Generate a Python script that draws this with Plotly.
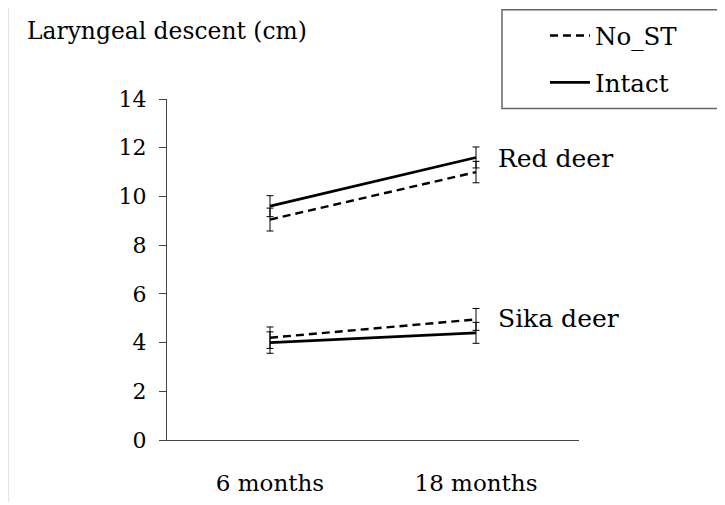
import plotly.graph_objects as go

ages = ["6 months", "18 months"]

red_intact = [9.6, 11.6]
red_intact_err = [0.43, 0.43]
red_nost = [9.05, 11.0]
red_nost_err = [0.47, 0.44]

sika_intact = [4.0, 4.4]
sika_intact_err = [0.44, 0.43]
sika_nost = [4.2, 4.95]
sika_nost_err = [0.44, 0.45]

y_ticks = [0, 2, 4, 6, 8, 10, 12, 14]

FONT = "DejaVu Serif"
DASH = "8px,5px"

OFF = 8  # page body margin (figure starts 8px into the page)
W, H = 725 - OFF, 505 - OFF
L, T = 167 - OFF, 98.5 - OFF
R, B = 146, 65
PW, PH = W - L - R, H - T - B


def px(xp):
    return (xp - OFF - L) / PW


def py(yp):
    return (H - B - (yp - OFF)) / PH


fig = go.Figure()


def add(vals, errs, name, dash, show, group):
    fig.add_trace(go.Scatter(
        x=ages, y=vals, name=name, mode="lines",
        line=dict(color="black", width=2.7 if dash == "solid" else 2.4, dash=dash),
        error_y=dict(type="data", array=errs, visible=True, color="black",
                     thickness=1, width=3.5),
        showlegend=show, legendgroup=group, legendrank=1 if group == "nost" else 2,
        hoverinfo="x+y+name",
    ))


add(red_nost, red_nost_err, "No_ST", DASH, True, "nost")
add(sika_nost, sika_nost_err, "No_ST", DASH, False, "nost")
add(red_intact, red_intact_err, "Intact", "solid", True, "intact")
add(sika_intact, sika_intact_err, "Intact", "solid", False, "intact")

fig.add_annotation(x=1, y=11.55, text="Red deer", showarrow=False, xanchor="left",
                   yanchor="middle", xshift=20, font=dict(family=FONT, size=25, color="black"))
fig.add_annotation(x=1, y=5.0, text="Sika deer", showarrow=False, xanchor="left",
                   yanchor="middle", xshift=20, font=dict(family=FONT, size=25, color="black"))

# legend frame
fig.add_shape(type="rect", xref="paper", yref="paper",
              x0=px(502), x1=px(740), y0=py(108), y1=py(9),
              line=dict(color="#666666", width=1.5), fillcolor="rgba(0,0,0,0)")
# faint left page edge
fig.add_shape(type="line", xref="paper", yref="paper",
              x0=px(8.5), x1=px(8.5), y0=py(502), y1=py(-20),
              line=dict(color="#e4e4e4", width=1.2))

fig.update_layout(
    width=W, height=H,
    margin=dict(l=L, r=R, t=T, b=B, pad=0, autoexpand=False),
    paper_bgcolor="white", plot_bgcolor="white",
    font=dict(family=FONT, size=22, color="black"),
    title=dict(text="Laryngeal descent (cm)", x=(27 - OFF) / W, xanchor="left",
               xref="container", yref="container", y=1 - (31 - OFF) / H, yanchor="middle",
               font=dict(family=FONT, size=23.4, color="black")),
    legend=dict(xref="container", yref="container", x=(545 - OFF) / W, y=1 - (13 - OFF) / H,
                xanchor="left", yanchor="top", bgcolor="rgba(0,0,0,0)",
                borderwidth=0, font=dict(family=FONT, size=24.5, color="black"),
                tracegroupgap=12, itemwidth=40),
    xaxis=dict(type="category", range=[-0.5, 1.5], showgrid=False, zeroline=False,
               showline=True, linecolor="#444444", linewidth=1.2, ticks="",
               tickfont=dict(family=FONT, size=23, color="black"),
               ticklabelstandoff=22, fixedrange=True, automargin=False),
    yaxis=dict(range=[0, 14], tickvals=y_ticks, showgrid=False, zeroline=False,
               showline=True, linecolor="#444444", linewidth=1.2, ticks="outside",
               ticklen=7, tickcolor="#444444", tickwidth=1.2,
               tickfont=dict(family=FONT, size=22, color="black"),
               ticklabelstandoff=8, fixedrange=True, automargin=False),
    showlegend=True,
)

fig.write_html("out.html")
